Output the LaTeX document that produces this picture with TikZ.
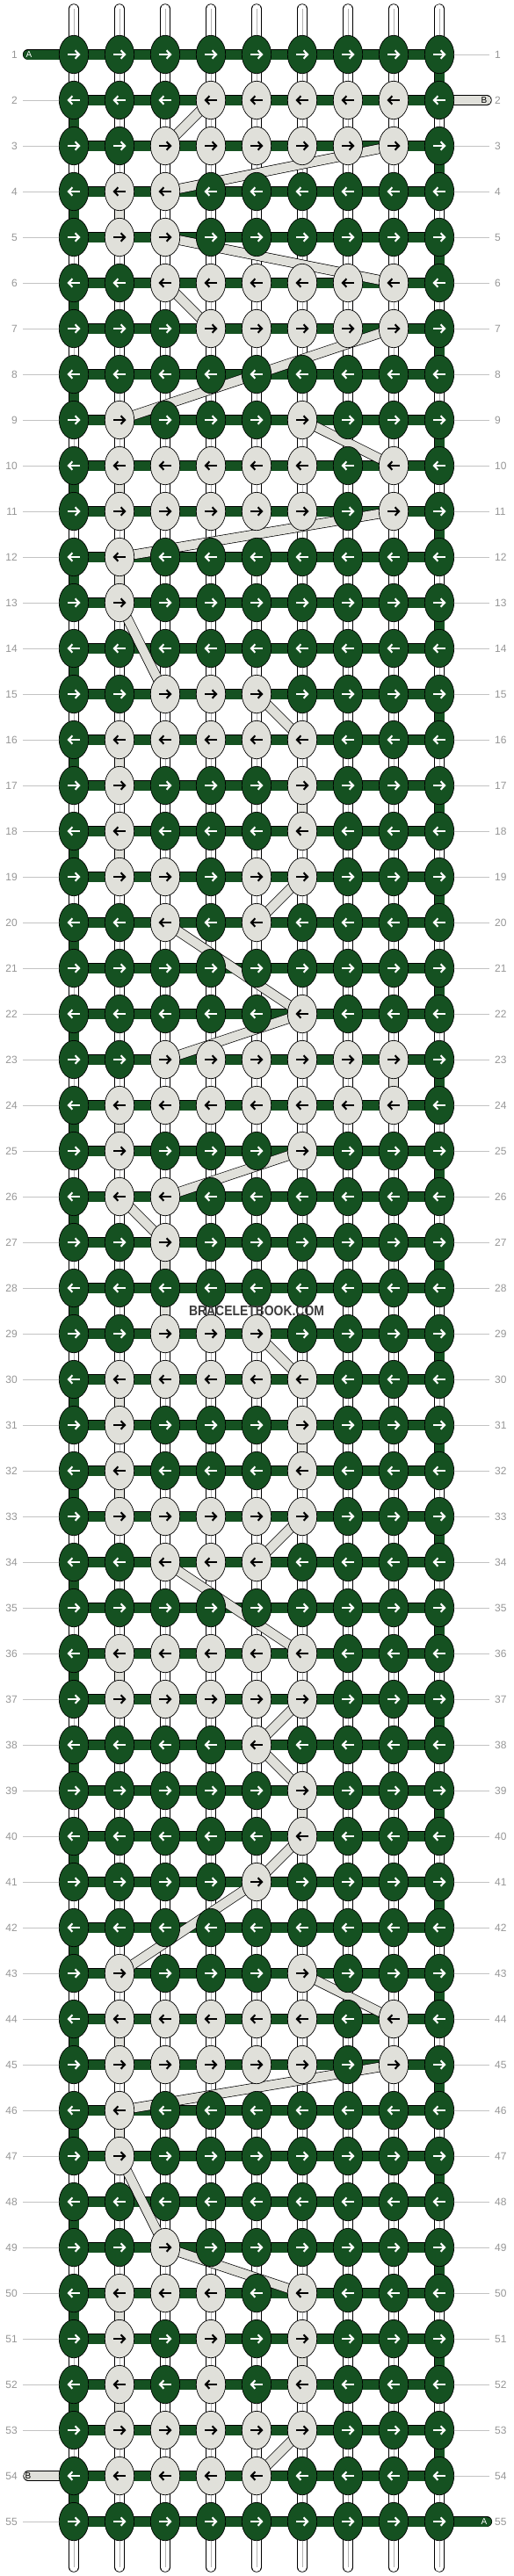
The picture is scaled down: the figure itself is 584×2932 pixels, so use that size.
\documentclass[tikz,border=0pt]{standalone}
\usepackage{fontspec}
\setmainfont{Liberation Sans}
\usetikzlibrary{shapes.geometric,arrows.meta}
\definecolor{dg}{RGB}{21,81,33}
\definecolor{lg}{RGB}{224,224,218}
\definecolor{lblc}{RGB}{150,150,150}
\definecolor{llinec}{RGB}{195,195,195}
\definecolor{wmc}{RGB}{60,60,60}
\pgfdeclarelayer{warp}
\pgfdeclarelayer{bands}
\pgfsetlayers{warp,bands,main}
\begin{document}
\begin{tikzpicture}[x=1pt,y=-1pt,
 knot/.style={ellipse,draw=black,line width=0.7pt,minimum width=33.4pt,minimum height=43.4pt,inner sep=0pt},
 arr/.style={line width=2.1pt,-{Straight Barb[length=4.5pt,width=9.5pt]}},
 warpline/.style={line width=10pt,draw=white,line cap=round,preaction={draw=black,line width=11.4pt,line cap=round}},
 warpmid/.style={line width=0.5pt,draw=black!30},
 gband/.style={line width=10pt,draw=lg,preaction={draw=black,line width=11.4pt}},
 hband/.style={line width=11pt,draw=dg,preaction={draw=black,line width=12.2pt}},
 vband/.style={line width=11pt,draw=dg,preaction={draw=black,line width=12.4pt}},
 gpill/.style={line width=10pt,draw=lg,line cap=round,preaction={draw=black,line width=11.4pt,line cap=round}},
 apill/.style={line width=11pt,draw=dg,line cap=round,preaction={draw=black,line width=12.2pt,line cap=round}},
 lbl/.style={text=lblc,font=\fontsize{12pt}{14pt}\selectfont,inner sep=0pt},
 lline/.style={draw=llinec,line width=1pt},
 pilltext/.style={font=\fontsize{10pt}{12pt}\selectfont,inner sep=0pt}]
\useasboundingbox (0,0) rectangle (584,2932);
% knots
\foreach \rowdata [count=\r] in {
{0,0,0,0,0,0,0,0,0},{0,0,0,1,1,1,1,1,0},{0,0,1,1,1,1,1,1,0},{0,1,1,0,0,0,0,0,0},{0,1,1,0,0,0,0,0,0},
{0,0,1,1,1,1,1,1,0},{0,0,0,1,1,1,1,1,0},{0,0,0,0,0,0,0,0,0},{0,1,0,0,0,1,0,0,0},{0,1,1,1,1,1,0,1,0},
{0,1,1,1,1,1,0,1,0},{0,1,0,0,0,0,0,0,0},{0,1,0,0,0,0,0,0,0},{0,0,0,0,0,0,0,0,0},{0,0,1,1,1,0,0,0,0},
{0,1,1,1,1,1,0,0,0},{0,1,0,0,0,1,0,0,0},{0,1,0,0,0,1,0,0,0},{0,1,1,0,1,1,0,0,0},{0,0,1,0,1,0,0,0,0},
{0,0,0,0,0,0,0,0,0},{0,0,0,0,0,1,0,0,0},{0,0,1,1,1,1,1,1,0},{0,1,1,1,1,1,1,1,0},{0,1,0,0,0,1,0,0,0},
{0,1,1,0,0,0,0,0,0},{0,0,1,0,0,0,0,0,0},{0,0,0,0,0,0,0,0,0},{0,0,1,1,1,0,0,0,0},{0,1,1,1,1,1,0,0,0},
{0,1,0,0,0,1,0,0,0},{0,1,0,0,0,1,0,0,0},{0,1,1,1,1,1,0,0,0},{0,0,1,1,1,0,0,0,0},{0,0,0,0,0,0,0,0,0},
{0,1,1,1,1,1,0,0,0},{0,1,1,1,1,1,0,0,0},{0,0,0,0,1,0,0,0,0},{0,0,0,0,0,1,0,0,0},{0,0,0,0,0,1,0,0,0},
{0,0,0,0,1,0,0,0,0},{0,0,0,0,0,0,0,0,0},{0,1,0,0,0,1,0,0,0},{0,1,1,1,1,1,0,1,0},{0,1,1,1,1,1,0,1,0},
{0,1,0,0,0,0,0,0,0},{0,1,0,0,0,0,0,0,0},{0,0,0,0,0,0,0,0,0},{0,0,1,0,0,0,0,0,0},{0,1,1,1,0,1,0,0,0},
{0,1,0,1,0,1,0,0,0},{0,1,0,1,0,1,0,0,0},{0,1,1,1,1,1,0,0,0},{0,1,1,1,1,0,0,0,0},{0,0,0,0,0,0,0,0,0}} {
  \pgfmathsetmacro\yy{62+52*(\r-1)}
  \foreach \v [count=\c] in \rowdata {
    \pgfmathsetmacro\xx{84+52*(\c-1)}
    \ifnum\v=1
      \node[knot,fill=lg] (k-\r-\c) at (\xx,\yy) {};
      \def\ac{black}
    \else
      \node[knot,fill=dg] (k-\r-\c) at (\xx,\yy) {};
      \def\ac{white}
    \fi
    \ifodd\r
      \draw[arr,draw=\ac] (\xx-7,\yy) -- (\xx+7.5,\yy);
    \else
      \draw[arr,draw=\ac] (\xx+7,\yy) -- (\xx-7.5,\yy);
    \fi
  }
  % labels
  \node[lbl,anchor=east] (nl-\r) at (20,\yy) {\r};
  \node[lbl,anchor=west] (nr-\r) at (563,\yy) {\r};
  \coordinate (ll-\r) at (26,\yy);
  \coordinate (rl-\r) at (557,\yy);
  \ifnum\r=1 \else \ifnum\r=54 \else \draw[lline] (ll-\r) -- (k-\r-1); \fi\fi
  \ifnum\r=2 \else \ifnum\r=55 \else \draw[lline] (k-\r-9) -- (rl-\r); \fi\fi
}
% warp strings
\begin{pgfonlayer}{warp}
\foreach \c in {1,...,9} {
  \pgfmathsetmacro\xx{84+52*(\c-1)}
  \coordinate (wt-\c) at (\xx,10);
  \coordinate (wb-\c) at (\xx,2922);
  \draw[warpline] (wt-\c) -- (wb-\c);
  \draw[warpmid] (wt-\c) -- (wb-\c);
}
\end{pgfonlayer}
\begin{pgfonlayer}{bands}
% horizontal bands
\foreach \r in {1,...,55} \draw[hband] (k-\r-1.center) -- (k-\r-9.center);
% pills
\coordinate (ap1) at (32,62);
\coordinate (ap55) at (554,2870);
\coordinate (bp2) at (554,114);
\coordinate (bp54) at (32,2818);
\draw[apill] (ap1) -- (k-1-1.center);
\draw[apill] (k-55-9.center) -- (ap55);
\draw[gpill] (k-2-9.center) -- (bp2);
\draw[gpill] (bp54) -- (k-54-1.center);
% light string path
\foreach \ra/\ca/\rb/\cb in {2/4/3/3,3/8/4/3,4/2/5/2,5/3/6/8,6/3/7/4,7/8/9/2,9/6/10/8,10/2/11/2,
 11/8/12/2,12/2/13/2,13/2/15/3,15/5/16/6,16/2/17/2,17/6/18/6,18/2/19/2,19/6/20/5,20/3/22/6,
 22/6/23/3,23/8/24/8,24/2/25/2,25/6/26/3,26/2/27/3,27/3/29/3,29/5/30/6,30/2/31/2,31/6/32/6,
 32/2/33/2,33/6/34/5,34/3/36/6,36/2/37/2,37/6/38/5,38/5/39/6,39/6/40/6,40/6/41/5,41/5/43/2,
 43/6/44/8,44/2/45/2,45/8/46/2,46/2/47/2,47/2/49/3,49/3/50/6,50/2/51/2,51/6/52/6,52/2/53/2,53/6/54/5}
 \draw[gband] (k-\ra-\ca.center) -- (k-\rb-\cb.center);
% dark string turnarounds
\foreach \r in {1,...,54} {
  \pgfmathtruncatemacro\rn{\r+1}
  \ifodd\r
    \draw[vband] (k-\r-9.center) -- (k-\rn-9.center);
  \else
    \draw[vband] (k-\r-1.center) -- (k-\rn-1.center);
  \fi
}
\end{pgfonlayer}
% pill letters
\node[pilltext,text=white] (tA1) at (33,62) {A};
\node[pilltext,text=white] (tA55) at (551,2870) {A};
\node[pilltext,text=black] (tB2) at (551,114) {B};
\node[pilltext,text=black] (tB54) at (32,2818) {B};
% watermark
\node[text=wmc,font=\fontsize{16pt}{18pt}\selectfont\bfseries,inner sep=0pt] (wm) at (292,1492) {\scalebox{0.87}[1]{BRACELETBOOK.COM}};
\end{tikzpicture}
\end{document}
